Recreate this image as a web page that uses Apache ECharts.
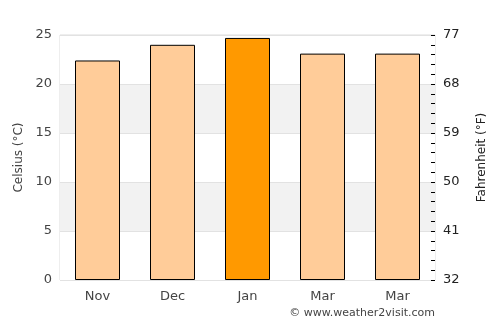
<!DOCTYPE html>
<html>
<head>
<meta charset="utf-8">
<script src="https://cdn.jsdelivr.net/npm/echarts@6/dist/echarts.min.js"></script>
<style>
  html, body { margin: 0; padding: 0; background: #fff; }
  #chart { width: 500px; height: 325px; }
</style>
</head>
<body>
<div id="chart"></div>
<script>
var months = ['Nov', 'Dec', 'Jan', 'Mar', 'Mar'];
var celsius = [22.4, 24.0, 24.7, 23.1, 23.1];
var highlight = [false, false, true, false, false];
var fahrenheitLabels = ['32', '41', '50', '59', '68', '77'];

var chart = echarts.init(document.getElementById('chart'));
var font = 'DejaVu Sans';

var barData = celsius.map(function (v, i) {
    return {
        value: v,
        itemStyle: { color: highlight[i] ? '#ff9900' : '#ffcc99' }
    };
});

var option = {
    animation: false,
    textStyle: { fontFamily: font },
    grid: {
        left: 60,
        right: 65,
        top: 35,
        bottom: 45,
        show: true,
        borderColor: '#dddddd',
        borderWidth: 1
    },
    xAxis: {
        type: 'category',
        data: months,
        axisLine: { show: false },
        axisTick: { show: false },
        axisLabel: { color: '#444', fontSize: 13, margin: 10, fontFamily: font }
    },
    yAxis: [
        {
            type: 'value',
            min: 0,
            max: 25,
            interval: 5,
            name: 'Celsius (°C)',
            nameLocation: 'middle',
            nameGap: 33,
            nameTextStyle: { color: '#444', fontSize: 12, fontFamily: font },
            axisLine: { show: false },
            axisTick: { show: false },
            axisLabel: { color: '#444', fontSize: 13, margin: 8, fontFamily: font },
            splitLine: { show: true, lineStyle: { color: '#e2e2e2' } },
            splitArea: { show: true, areaStyle: { color: ['#ffffff', '#f2f2f2'] } }
        },
        {
            type: 'value',
            position: 'right',
            min: 0,
            max: 25,
            interval: 5,
            name: 'Fahrenheit (°F)',
            nameLocation: 'middle',
            nameGap: 41,
            nameTextStyle: { color: '#222', fontSize: 12, fontFamily: font },
            axisLine: { show: false },
            axisTick: { show: true, inside: true, length: 4, lineStyle: { color: '#000' } },
            minorTick: { show: true, splitNumber: 5, length: 4, lineStyle: { color: '#000' } },
            axisLabel: {
                color: '#222',
                fontSize: 13,
                margin: 8,
                fontFamily: font,
                formatter: function (v) { return fahrenheitLabels[Math.round(v / 5)]; }
            },
            splitLine: { show: false }
        }
    ],
    graphic: [{
        type: 'text',
        right: 65,
        bottom: 6,
        style: { text: '© www.weather2visit.com', fill: '#444', font: '11px DejaVu Sans' }
    }],
    series: [{
        type: 'bar',
        data: barData,
        barWidth: '60%',
        itemStyle: { borderColor: '#000', borderWidth: 1 }
    }]
};
chart.setOption(option);
</script>
</body>
</html>
